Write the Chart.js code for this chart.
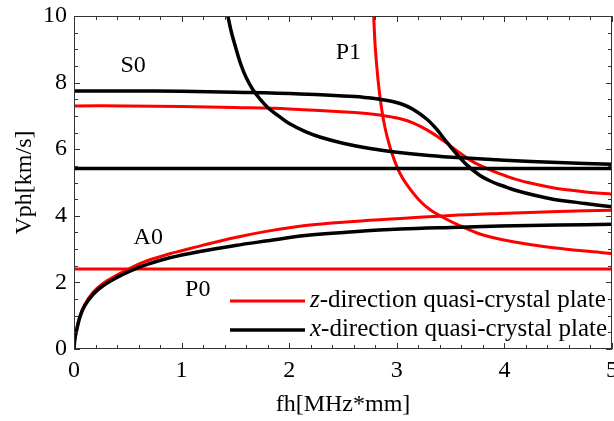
<!DOCTYPE html>
<html>
<head>
<meta charset="utf-8">
<script src="https://cdn.jsdelivr.net/npm/chart.js@4.4.1/dist/chart.umd.min.js"></script>
<style>
  html, body { margin: 0; padding: 0; background: #fff; }
</style>
</head>
<body>
<canvas id="dispersion" width="614" height="421"></canvas>
<script>
// phase velocity Vph [km/s] against frequency-thickness fh [MHz*mm]
// each curve is a list of [fh, Vph] pairs

// x-direction quasi-crystal plate (black)
const xS0 = [[0, 7.75], [0.5, 7.75], [1, 7.74], [1.5, 7.71], [2.1, 7.66], [2.61, 7.58], [2.84, 7.5],
  [2.95, 7.44], [3.05, 7.35], [3.15, 7.2], [3.28, 6.9], [3.37, 6.6], [3.46, 6.23], [3.56, 5.84],
  [3.65, 5.53], [3.77, 5.22], [3.9, 5.0], [4.0, 4.88], [4.11, 4.76], [4.3, 4.6], [4.45, 4.5],
  [4.75, 4.37], [5, 4.27]];
const xP0 = [[0, 5.42], [5, 5.42]];
const xA1 = [[1.43, 10], [1.46, 9.55], [1.5, 9.08], [1.55, 8.55], [1.6, 8.15], [1.66, 7.8], [1.73, 7.5],
  [1.8, 7.25], [1.9, 7.0], [2.0, 6.77], [2.15, 6.53], [2.3, 6.35], [2.5, 6.18], [2.75, 6.02], [3.0, 5.91],
  [3.3, 5.81], [3.6, 5.74], [4.0, 5.67], [4.5, 5.6], [5, 5.55]];
const xA0 = [[0, 0], [0.008, 0.3], [0.025, 0.57], [0.056, 0.97], [0.1, 1.3], [0.18, 1.65], [0.27, 1.9],
  [0.4, 2.15], [0.52, 2.34], [0.68, 2.54], [0.89, 2.74], [1.17, 2.93], [1.5, 3.11], [1.8, 3.25],
  [2.15, 3.41], [2.6, 3.52], [3.03, 3.6], [3.5, 3.65], [3.96, 3.69], [4.5, 3.72], [5, 3.75]];

// z-direction quasi-crystal plate (red)
const zS0 = [[0, 7.3], [0.5, 7.3], [1, 7.28], [1.5, 7.25], [2, 7.21], [2.61, 7.1], [2.84, 7.03],
  [2.95, 6.97], [3.05, 6.9], [3.15, 6.79], [3.28, 6.58], [3.4, 6.33], [3.46, 6.19], [3.59, 5.88],
  [3.71, 5.62], [3.84, 5.42], [3.96, 5.26], [4.1, 5.1], [4.27, 4.96], [4.45, 4.84], [4.58, 4.78],
  [4.8, 4.7], [5, 4.65]];
const zP1 = [[2.785, 10], [2.8, 9.05], [2.825, 8.1], [2.855, 7.3], [2.89, 6.65], [2.935, 6.08],
  [2.98, 5.65], [3.03, 5.27], [3.09, 4.95], [3.2, 4.5], [3.31, 4.18], [3.45, 3.92], [3.56, 3.74],
  [3.74, 3.49], [3.9, 3.34], [4.08, 3.22], [4.3, 3.11], [4.52, 3.02], [4.75, 2.94], [5, 2.87]];
const zA0 = [[0, 0], [0.008, 0.32], [0.025, 0.6], [0.056, 1.0], [0.1, 1.34], [0.18, 1.71], [0.27, 1.97],
  [0.4, 2.22], [0.52, 2.42], [0.68, 2.65], [0.89, 2.86], [1.0, 2.95], [1.2, 3.12], [1.5, 3.35],
  [1.8, 3.54], [2.15, 3.71], [2.6, 3.83], [3.03, 3.92], [3.5, 4.01], [3.96, 4.07], [4.5, 4.13], [5, 4.17]];
const zP0 = [[0, 2.4], [5, 2.4]];

const fhTicks = [0, 1, 2, 3, 4, 5];
const vphTicks = [0, 2, 4, 6, 8, 10];

const modeNames = ['S0', 'P1', 'A0', 'P0'];
const modeSpots = [[0.55, 8.52], [2.55, 8.91], [0.69, 3.33], [1.15, 1.77]];

const legendNames = [['z', '-direction quasi-crystal plate'], ['x', '-direction quasi-crystal plate']];

const RED = '#ff0000';
const BLACK = '#000000';
const SERIF = '"Liberation Serif", "Times New Roman", serif';

Chart.defaults.font.family = SERIF;
Chart.defaults.color = '#000';

function curve(pts, color, width) {
  return {
    data: pts.map(p => ({ x: p[0], y: p[1] })),
    borderColor: color,
    borderWidth: width,
    pointRadius: 0,
    fill: false,
    tension: 0.35,
    borderJoinStyle: 'round',
    borderCapStyle: 'round'
  };
}

// ticks on all four sides point inward, plus the frame, mode names and legend
const frame = {
  id: 'frame',
  afterDatasetsDraw(chart) {
    const { ctx, chartArea: a, scales: { x, y } } = chart;
    ctx.save();
    ctx.strokeStyle = '#333';
    ctx.lineWidth = 1;
    ctx.beginPath();
    for (let i = 0; i <= 25; i++) {
      const px = Math.round(x.getPixelForValue(i * 0.2)) + 0.5;
      const len = i % 5 === 0 ? 6 : 4;
      ctx.moveTo(px, a.bottom); ctx.lineTo(px, a.bottom - len);
      ctx.moveTo(px, a.top); ctx.lineTo(px, a.top + len);
    }
    for (let i = 0; i <= 20; i++) {
      const py = Math.round(y.getPixelForValue(i * 0.5)) + 0.5;
      const len = i % 4 === 0 ? 6 : 4;
      ctx.moveTo(a.left, py); ctx.lineTo(a.left + len, py);
      ctx.moveTo(a.right, py); ctx.lineTo(a.right - len, py);
    }
    ctx.stroke();
    ctx.strokeRect(a.left + 0.5, a.top + 0.5, a.width - 1, a.height - 1);

    ctx.fillStyle = '#000';
    ctx.font = '24px ' + SERIF;
    ctx.textAlign = 'center';
    ctx.textBaseline = 'middle';
    modeNames.forEach((name, i) => {
      ctx.fillText(name, x.getPixelForValue(modeSpots[i][0]), y.getPixelForValue(modeSpots[i][1]));
    });

    const colors = [RED, BLACK];
    const widths = [3, 3.5];
    const rows = [a.top + 285, a.top + 314];
    ctx.textAlign = 'left';
    ctx.textBaseline = 'alphabetic';
    legendNames.forEach((parts, i) => {
      const ly = rows[i];
      ctx.strokeStyle = colors[i];
      ctx.lineWidth = widths[i];
      ctx.beginPath();
      ctx.moveTo(a.left + 156, ly);
      ctx.lineTo(a.left + 231, ly);
      ctx.stroke();
      let tx = a.left + 236;
      ctx.font = 'italic 25px ' + SERIF;
      ctx.fillText(parts[0], tx, ly + 6);
      tx += ctx.measureText(parts[0]).width;
      ctx.font = '25px ' + SERIF;
      ctx.fillText(parts[1], tx, ly + 6);
    });
    ctx.restore();
  }
};

new Chart(document.getElementById('dispersion'), {
  type: 'line',
  data: {
    datasets: [
      curve(xS0, BLACK, 3.5),
      curve(xP0, BLACK, 3.5),
      curve(xA1, BLACK, 3.5),
      curve(xA0, BLACK, 3.5),
      curve(zS0, RED, 3),
      curve(zP1, RED, 3),
      curve(zA0, RED, 3),
      curve(zP0, RED, 3)
    ]
  },
  options: {
    responsive: false,
    animation: false,
    layout: { padding: { top: 16, right: 2, bottom: 0, left: 0 } },
    plugins: { legend: { display: false }, tooltip: { enabled: false } },
    scales: {
      x: {
        type: 'linear',
        min: 0,
        max: 5,
        afterBuildTicks: s => { s.ticks = fhTicks.map(v => ({ value: v })); },
        afterFit: s => { s.height = 72; s.paddingLeft = 0; s.paddingRight = 0; },
        grid: { display: false, drawTicks: false },
        border: { display: false },
        ticks: { padding: 7, maxRotation: 0, font: { size: 24 }, color: '#000' },
        title: { display: true, text: 'fh[MHz*mm]', font: { size: 24 }, color: '#000', padding: { top: 0, bottom: 2 } }
      },
      y: {
        type: 'linear',
        min: 0,
        max: 10,
        afterBuildTicks: s => { s.ticks = vphTicks.map(v => ({ value: v })); },
        afterFit: s => { s.width = 74; s.paddingTop = 0; s.paddingBottom = 0; },
        grid: { display: false, drawTicks: false },
        border: { display: false },
        ticks: { padding: 7, font: { size: 24 }, color: '#000' },
        title: { display: true, text: 'Vph[km/s]', font: { size: 24 }, color: '#000', padding: { top: 10, bottom: 0 } }
      }
    }
  },
  plugins: [frame]
});
</script>
</body>
</html>
